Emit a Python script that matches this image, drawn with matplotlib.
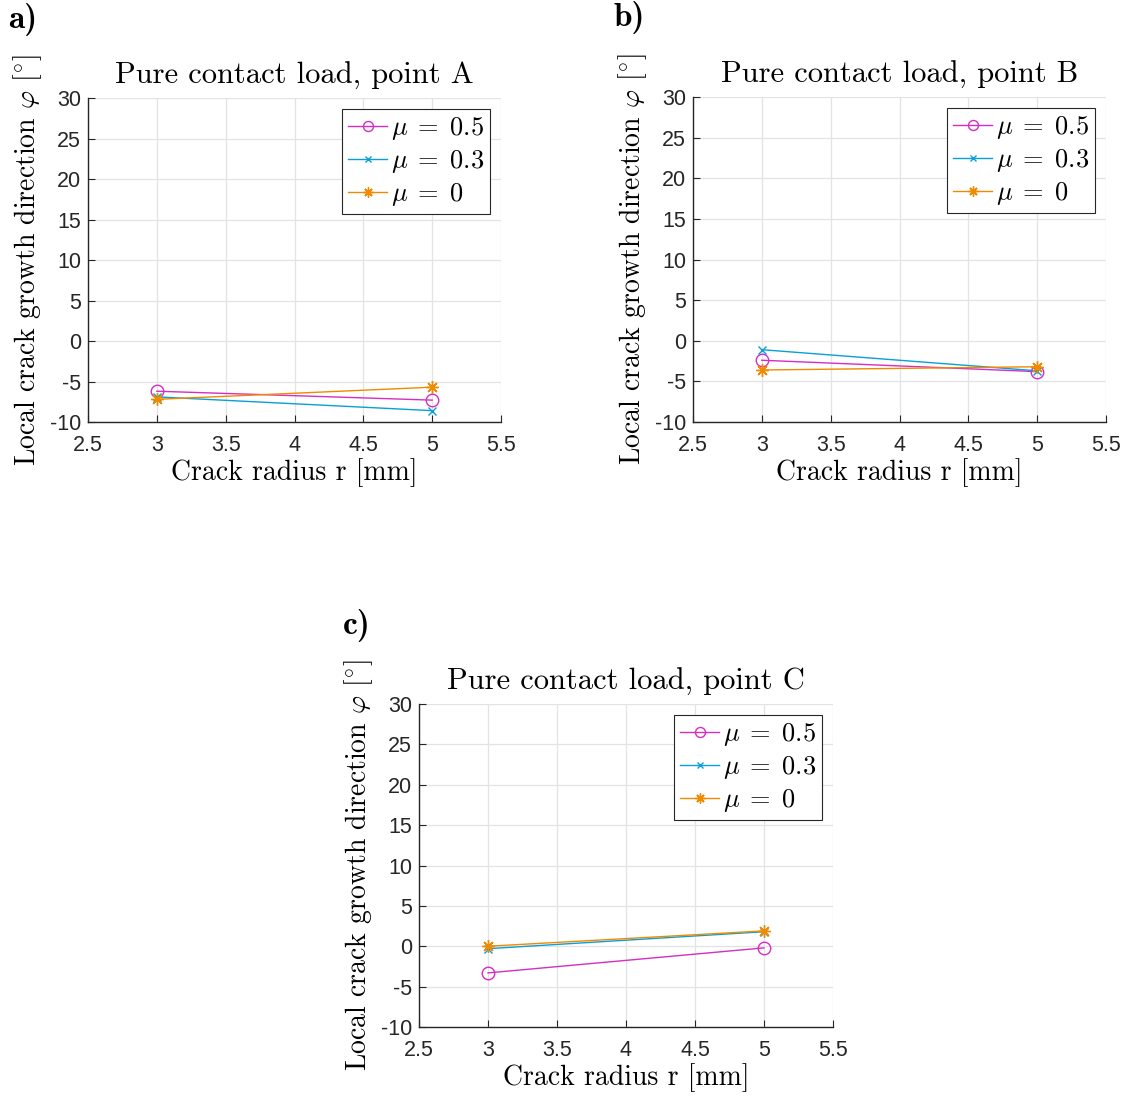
import numpy as np
import matplotlib
matplotlib.use("Agg")
import matplotlib.pyplot as plt

# данные: радиус трещины и угол направления роста
radius = [3, 5]
labels = [r'$\mu\;=\;0.5$', r'$\mu\;=\;0.3$', r'$\mu\;=\;0$']
point_a = [[-6.2, -7.3], [-6.9, -8.6], [-7.2, -5.7]]
point_b = [[-2.4, -3.8], [-1.1, -3.7], [-3.6, -3.2]]
point_c = [[-3.3, -0.2], [-0.3, 1.8], [0.0, 1.9]]
titles = ['Pure contact load, point A', 'Pure contact load, point B',
          'Pure contact load, point C']
panel_tags = ['a)', 'b)', 'c)']
x_ticks = [2.5, 3, 3.5, 4, 4.5, 5, 5.5]
y_ticks = [-10, -5, 0, 5, 10, 15, 20, 25, 30]

colors = ['#D62DC4', '#0A9FD6', '#F08A00']
markers = ['o', 'x', (8, 2, 0)]
msizes = [9, 6, 9]

plt.rcParams['mathtext.fontset'] = 'cm'
plt.rcParams['axes.unicode_minus'] = False

W, H = 1127, 1097
fig = plt.figure(figsize=(W / 100, H / 100), dpi=100)

# положения осей в пикселях: левый край, верх, правый край, низ
boxes = [(88, 98, 501, 422), (693, 97, 1106, 422), (419, 704, 833, 1027)]
tag_pos = [(8, 20), (614, 17), (343, 626)]


def draw(ax, data, title):
    for vals, c, m, ms, lab in zip(data, colors, markers, msizes, labels):
        mfc = 'none' if m == 'o' else c
        ax.plot(radius, vals, color=c, marker=m, markersize=ms, mfc=mfc,
                mew=1.0, lw=1.0, label=lab)
    ax.set_xlim(2.5, 5.5)
    ax.set_ylim(-10, 30)
    ax.set_xticks(x_ticks)
    ax.set_xticklabels([f'{t:g}' for t in x_ticks])
    ax.set_yticks(y_ticks)
    ax.set_yticklabels([f'{t:g}' for t in y_ticks])
    ax.grid(True, color='#E3E3E3', lw=0.9)
    ax.set_axisbelow(True)
    for s in ['top', 'right']:
        ax.spines[s].set_visible(False)
    for s in ['left', 'bottom']:
        ax.spines[s].set_color('#262626')
        ax.spines[s].set_linewidth(1.0)
    ax.tick_params(direction='in', length=5, width=0.8, colors='#262626',
                   labelsize=15.5, pad=5)
    ax.tick_params(axis='x', pad=9)
    for t in ax.get_xticklabels() + ax.get_yticklabels():
        t.set_fontfamily('Liberation Sans')
        t.set_color('#262626')
    ax.set_title(title, fontfamily='cmr10', fontsize=22, pad=10)
    ax.set_xlabel('Crack radius r [mm]', fontfamily='cmr10', fontsize=20,
                  labelpad=2)
    ax.set_ylabel(r'Local crack growth direction $\varphi$ [$^{\circ}$]',
                  fontfamily='cmr10', fontsize=20, labelpad=4)
    leg = ax.legend(loc='upper right', fontsize=19, handlelength=1.45,
                    handletextpad=0.15, borderpad=0.25, labelspacing=0.22,
                    borderaxespad=0.4, fancybox=False, framealpha=1,
                    edgecolor='#262626', markerscale=0.8)
    leg.get_frame().set_linewidth(0.8)


for box, data, title, tag, tp in zip(boxes, [point_a, point_b, point_c],
                                     titles, panel_tags, tag_pos):
    l, t, r, b = box
    ax = fig.add_axes([l / W, 1 - b / H, (r - l) / W, (b - t) / H])
    draw(ax, data, title)
    fig.text(tp[0] / W, 1 - tp[1] / H, tag, fontfamily='cmb10', fontsize=24,
             va='center', ha='left')

plt.savefig('out.png', dpi=100)
